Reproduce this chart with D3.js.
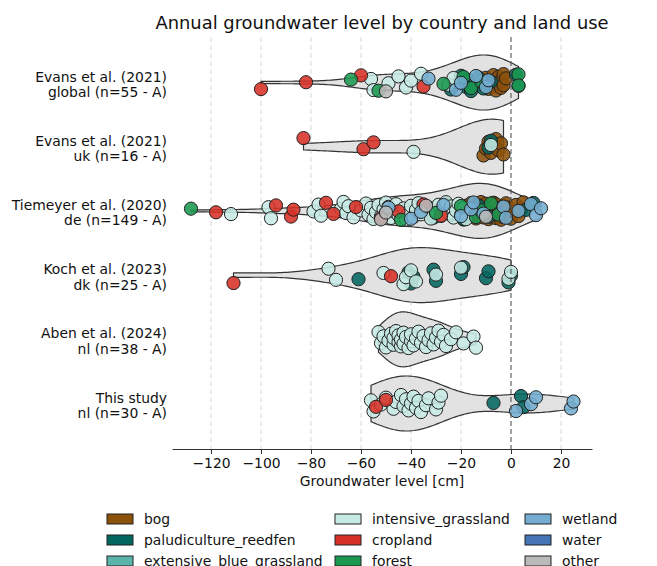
<!DOCTYPE html>
<html>
<head>
<meta charset="utf-8">
<script src="https://cdn.jsdelivr.net/npm/d3@7"></script>
<style>
  html, body { margin: 0; padding: 0; background: #fff; }
  svg { display: block; font-family: "DejaVu Sans", sans-serif; }
</style>
</head>
<body>
<svg id="chart" width="657" height="566"></svg>
<script>
// Land-use classes, in legend (and drawing) order
const landUses = ["bog", "paludiculture_reedfen", "extensive_blue_grassland",
  "intensive_grassland", "cropland", "forest", "wetland", "water", "other"];
const landUseColors = ["#8c510a", "#01665e", "#5ab4ac", "#c7eae5", "#d73027",
  "#1a9850", "#74add1", "#4575b4", "#bababa"];

// Studies (top to bottom) and their country / site group
const studyNames = ["Evans et al. (2021)", "Evans et al. (2021)", "Tiemeyer et al. (2020)",
  "Koch et al. (2023)", "Aben et al. (2024)", "This study"];
const studyRegions = ["global", "uk", "de", "dk", "nl", "nl"];

// Annual mean groundwater level [cm] per site, grouped by land use
const evansGlobal = [
  ["bog", [-12, -10, -9, -8, -7, -7, -6, -6, -5, -5, -4, -4, -3, -3, -2]],
  ["paludiculture_reedfen", [-24, -21, -20, -18, -17, -16, -15, -13, -11, -8, 2, 3]],
  ["intensive_grassland", [-56, -55, -49, -45, -42, -40, -36, -25, -23]],
  ["cropland", [-100, -82, -60, -35]],
  ["forest", [-64, -53, -27, -19, -16, -12, 3, 3]],
  ["wetland", [-33, -22, -20, -14, -10, -9]],
  ["other", [-50]]
];
const evansUk = [
  ["bog", [-11, -10, -9, -8, -7, -6, -5, -4, -3]],
  ["paludiculture_reedfen", [-9, -8]],
  ["intensive_grassland", [-39, -8]],
  ["cropland", [-83, -59, -55]]
];
const tiemeyerDe = [
  ["bog", [-20, -19, -18, -18, -17, -16, -16, -15, -15, -14, -14, -13, -13, -12, -12,
    -11, -11, -11, -10, -10, -10, -9, -9, -9, -8, -8, -8, -7, -7, -7, -6, -6, -6,
    -5, -5, -4, -4, -3, -3, -2, -2, -1, -1, 0, 1, 2, 3, 4, 5]],
  ["paludiculture_reedfen", [-41, -37, -31, -30, -26, -24, -22, -19, -17, -13, -9, 6, 9]],
  ["intensive_grassland", [-112, -97, -96, -79, -77, -76, -68, -67, -66, -65, -63, -60,
    -58, -57, -56, -55, -54, -53, -52, -51, -50, -50, -49, -48, -47, -46, -45, -43, -42,
    -41, -40, -39, -38, -37, -36, -33, -32, -30, -29, -28, -27, -26, -25, -24, -23, -22,
    -21, -20, -19, -18]],
  ["cropland", [-118, -94, -88, -87, -74, -71, -62, -52, -45, -35, -28]],
  ["forest", [-128, -44, -30, -20, -14, -12, -8, -5]],
  ["wetland", [-49, -40, -36, -27, -20, -16, -15, -11, -3, -2, 3, 8, 10, 12]],
  ["other", [-52, -50, -34, -10]]
];
const kochDk = [
  ["paludiculture_reedfen", [-61, -41, -40, -39, -31, -30, -20, -19, -10, -9, -1, 0]],
  ["intensive_grassland", [-73, -70, -51, -43, -42, -40, -38, -30, -20, -1, 0]],
  ["cropland", [-111, -48]]
];
const abenNl = [
  ["intensive_grassland", [-53, -52, -51, -50, -49, -48, -47, -47, -46, -45, -45, -44,
    -44, -43, -43, -42, -41, -40, -40, -39, -38, -37, -36, -35, -34, -33, -32, -31, -30,
    -29, -28, -27, -26, -24, -22, -19, -15, -14]]
];
const thisStudyNl = [
  ["paludiculture_reedfen", [-7, 4, 5]],
  ["intensive_grassland", [-56, -55, -52, -50, -47, -46, -44, -43, -42, -41, -40, -39,
    -38, -37, -36, -34, -33, -30, -29, -28]],
  ["cropland", [-54, -50]],
  ["wetland", [2, 8, 10, 24, 25]]
];

const studyData = [evansGlobal, evansUk, tiemeyerDe, kochDk, abenNl, thisStudyNl];
const tickValues = [-120, -100, -80, -60, -40, -20, 0, 20];

const svg = d3.select("#chart");
const color = d3.scaleOrdinal().domain(landUses).range(landUseColors);

const x = d3.scaleLinear().domain([-135.6, 32.4]).range([172, 592]);
const rowIds = studyData.map((d, i) => i);
const y = d3.scaleBand().domain(rowIds).range([50.4, 435.6]);
const plotTop = 37, plotBottom = 449;
const halfWidth = 27.5;

// Vertical dashed grid
svg.append("g").selectAll("line").data(tickValues.filter(v => v !== 0)).join("line")
  .attr("x1", d => x(d)).attr("x2", d => x(d))
  .attr("y1", plotTop).attr("y2", plotBottom)
  .attr("stroke", "#d9d9d9").attr("stroke-width", 1)
  .attr("stroke-dasharray", "5,3");

// Gaussian KDE with Scott's bandwidth, evaluated between data min and max
function kde(values, gridSize) {
  const n = values.length;
  const sd = d3.deviation(values);
  const bw = sd * Math.pow(n, -1 / 5);
  const [lo, hi] = d3.extent(values);
  const pts = [];
  for (let k = 0; k < gridSize; k++) {
    const v = lo + (hi - lo) * k / (gridSize - 1);
    let s = 0;
    for (const xi of values) {
      const z = (v - xi) / bw;
      s += Math.exp(-0.5 * z * z);
    }
    pts.push([v, s / (n * bw * Math.sqrt(2 * Math.PI))]);
  }
  return pts;
}

const rows = studyData.map((groups, i) => {
  const points = [];
  groups.slice().sort((a, b) => landUses.indexOf(a[0]) - landUses.indexOf(b[0]))
    .forEach(([cat, vals]) => vals.forEach(v => points.push({ cat, v })));
  return { i, points, values: points.map(p => p.v) };
});

// Violins
const violinG = svg.append("g");
rows.forEach(r => {
  const dens = kde(r.values, 100);
  const maxD = d3.max(dens, d => d[1]);
  const w = d3.scaleLinear().domain([0, maxD]).range([0, halfWidth]);
  const cy = y(r.i) + y.bandwidth() / 2;
  const area = d3.area()
    .x(d => x(d[0]))
    .y0(d => cy - w(d[1]))
    .y1(d => cy + w(d[1]))
    .curve(d3.curveLinear);
  violinG.append("path")
    .datum(dens)
    .attr("d", d => area(d) + "Z")
    .attr("fill", "#e2e2e2")
    .attr("stroke", "#333")
    .attr("stroke-width", 1.2)
    .attr("stroke-linejoin", "round");
});

// Strip points with a fixed, deterministic vertical spread
const jitter = 9;
const pointG = svg.append("g");
rows.forEach(r => {
  const cy = y(r.i) + y.bandwidth() / 2;
  pointG.append("g").selectAll("circle").data(r.points).join("circle")
    .attr("cx", d => x(d.v))
    .attr("cy", (d, k) => {
      const u = ((k + 1) * 0.6180339887 + r.i * 0.37) % 1;
      return cy + (u - 0.5) * 2 * jitter;
    })
    .attr("r", 6.6)
    .attr("fill", d => color(d.cat))
    .attr("fill-opacity", 0.88)
    .attr("stroke", "#222")
    .attr("stroke-width", 1);
});

// Zero reference line
svg.append("line")
  .attr("x1", x(0)).attr("x2", x(0))
  .attr("y1", plotTop).attr("y2", plotBottom)
  .attr("stroke", "#555").attr("stroke-width", 1.1)
  .attr("stroke-dasharray", "5,3");

// Row labels
const labelG = svg.append("g").attr("font-size", 13.9).attr("fill", "#111")
  .attr("text-anchor", "end");
rows.forEach(r => {
  const cy = y(r.i) + y.bandwidth() / 2;
  const t = labelG.append("text").attr("x", 167);
  t.append("tspan").attr("x", 167).attr("y", cy - 1).text(studyNames[r.i]);
  t.append("tspan").attr("x", 167).attr("y", cy + 14.5)
    .text(`${studyRegions[r.i]} (n=${r.values.length} - A)`);
});

// X axis
const xAxis = d3.axisBottom(x).tickValues(tickValues).tickSize(5).tickSizeOuter(0)
  .tickPadding(4.5).tickFormat(d3.format("d"));
const axG = svg.append("g").attr("transform", `translate(0,${plotBottom})`).call(xAxis);
axG.select(".domain").attr("stroke", "#333").attr("stroke-width", 1);
axG.selectAll(".tick line").attr("stroke", "#333");
axG.selectAll(".tick text").attr("font-size", 13.9).attr("fill", "#111")
  .attr("font-family", "DejaVu Sans, sans-serif");

svg.append("text")
  .attr("x", (x.range()[0] + x.range()[1]) / 2).attr("y", 486)
  .attr("text-anchor", "middle").attr("font-size", 13.9).attr("fill", "#111")
  .text("Groundwater level [cm]");

// Title
svg.append("text")
  .attr("x", (x.range()[0] + x.range()[1]) / 2).attr("y", 29)
  .attr("text-anchor", "middle").attr("font-size", 17.9).attr("fill", "#111")
  .text("Annual groundwater level by country and land use");

// Legend: three columns of three (last row runs off the bottom edge)
const legendCols = [107, 335, 525];
const legendRows = [519, 540, 561];
const legG = svg.append("g").attr("font-size", 13.9).attr("fill", "#111");
landUses.forEach((lu, k) => {
  const cx = legendCols[Math.floor(k / 3)];
  const cy = legendRows[k % 3];
  legG.append("rect")
    .attr("x", cx).attr("y", cy - 5).attr("width", 26).attr("height", 10)
    .attr("fill", color(lu)).attr("stroke", "#222").attr("stroke-width", 1);
  legG.append("text")
    .attr("x", cx + 37).attr("y", cy).attr("dy", "0.36em")
    .text(lu);
});
</script>
</body>
</html>
